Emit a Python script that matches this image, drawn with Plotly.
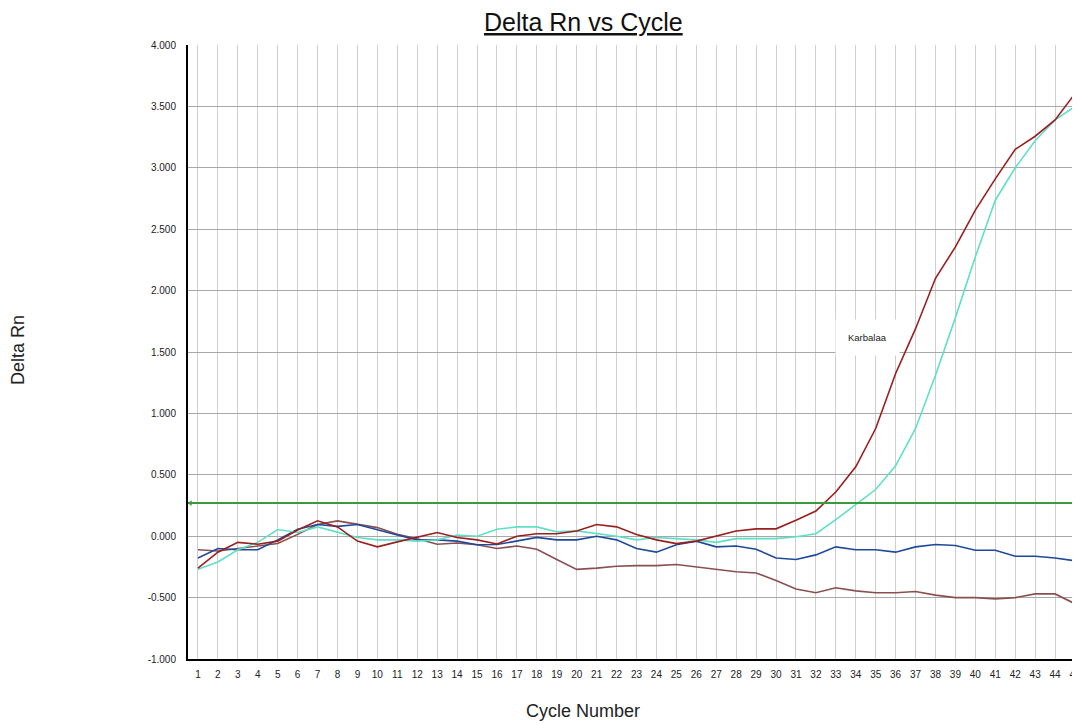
import plotly.graph_objects as go

cycles = list(range(1, 46))

red = [-0.26, -0.13, -0.05, -0.065, -0.04, 0.05, 0.125, 0.076, -0.04, -0.087,
       -0.046, -0.01, 0.03, -0.01, -0.03, -0.063, 0.0, 0.02, 0.02, 0.043,
       0.095, 0.076, 0.014, -0.03, -0.06, -0.04, 0.0, 0.043, 0.06, 0.06,
       0.13, 0.205, 0.36, 0.565, 0.877, 1.325, 1.69, 2.10, 2.356, 2.655,
       2.91, 3.15, 3.257, 3.39, 3.605]

cyan = [-0.27, -0.21, -0.11, -0.05, 0.054, 0.03, 0.076, 0.03, -0.01, -0.03,
        -0.03, -0.04, -0.03, 0.01, 0.0, 0.056, 0.076, 0.076, 0.035, 0.043,
        0.02, 0.0, -0.03, -0.01, -0.02, -0.03, -0.05, -0.02, -0.02, -0.02,
        -0.005, 0.02, 0.135, 0.26, 0.38, 0.573, 0.877, 1.31, 1.78, 2.275,
        2.736, 3.0, 3.22, 3.39, 3.50]

blue = [-0.177, -0.10, -0.11, -0.11, -0.03, 0.057, 0.095, 0.08, 0.095, 0.05,
        0.01, -0.03, -0.03, -0.04, -0.07, -0.068, -0.04, -0.01, -0.03, -0.03,
        0.0, -0.03, -0.10, -0.13, -0.07, -0.04, -0.087, -0.08, -0.106, -0.177,
        -0.19, -0.152, -0.087, -0.11, -0.11, -0.13, -0.087, -0.068, -0.076, -0.114,
        -0.114, -0.163, -0.163, -0.177, -0.20]

brown = [-0.11, -0.12, -0.10, -0.08, -0.06, 0.015, 0.095, 0.125, 0.095, 0.07,
         0.015, -0.02, -0.065, -0.055, -0.07, -0.10, -0.08, -0.106, -0.19, -0.27,
         -0.26, -0.245, -0.24, -0.24, -0.23, -0.25, -0.27, -0.29, -0.30, -0.36,
         -0.43, -0.46, -0.42, -0.445, -0.46, -0.46, -0.45, -0.48, -0.50, -0.50,
         -0.51, -0.50, -0.47, -0.47, -0.55]

threshold = 0.27

y_ticks = [-1.0, -0.5, 0.0, 0.5, 1.0, 1.5, 2.0, 2.5, 3.0, 3.5, 4.0]
y_tick_labels = ["-1.000", "-0.500", "0.000", "0.500", "1.000", "1.500",
                 "2.000", "2.500", "3.000", "3.500", "4.000"]

series = [
    ("brown", brown, "#8a5050"),
    ("blue", blue, "#1f4a9a"),
    ("cyan", cyan, "#5fe0c6"),
    ("red", red, "#9a1f1f"),
]

W, H = 1072, 716
L, R, T, B = 180, 0, 37, 65
FONT = "Arial, Liberation Sans, sans-serif"

fig = go.Figure()

fig.add_shape(type="line", xref="paper", x0=0, x1=1, yref="y",
              y0=threshold, y1=threshold, line=dict(color="#3a9a3a", width=2))

for name, vals, col in series:
    fig.add_trace(go.Scatter(x=cycles, y=vals, mode="lines", name=name,
                             line=dict(color=col, width=1.6),
                             showlegend=False))

fig.add_trace(go.Scatter(x=[0.62], y=[threshold], mode="markers",
                         marker=dict(symbol="triangle-left", size=5,
                                     color="#3a9a3a"),
                         showlegend=False, cliponaxis=False))

fig.add_annotation(x=34.6, y=1.62, xref="x", yref="y", text="Karbalaa",
                   showarrow=False, bgcolor="white", borderpad=12,
                   font=dict(family=FONT, size=9.5, color="#222222"))

pw = W - L - R
ph = H - T - B
fig.add_annotation(x=(10 - L) / pw, y=(T + ph - 342) / ph, xref="paper",
                   yref="paper", xanchor="center", yanchor="middle",
                   text="Delta Rn", textangle=-90, showarrow=False,
                   font=dict(family=FONT, size=18, color="#222222"))
fig.add_annotation(x=(575 - L) / pw, y=(T + ph - 703) / ph, xref="paper",
                   yref="paper", xanchor="center", yanchor="middle",
                   text="Cycle Number", showarrow=False,
                   font=dict(family=FONT, size=18, color="#222222"))
fig.add_annotation(x=(575 - L) / pw, y=(T + ph - 14) / ph, xref="paper",
                   yref="paper", xanchor="center", yanchor="middle",
                   text="<u>Delta Rn vs Cycle</u>", showarrow=False,
                   font=dict(family=FONT, size=25, color="#111111"))

fig.update_layout(
    width=W, height=H,
    margin=dict(l=L, r=R, t=T, b=B),
    paper_bgcolor="white", plot_bgcolor="white",
    font=dict(family=FONT, size=10, color="#222222"),
)

fig.update_xaxes(range=[0.5, 45.25], tickmode="array", tickvals=cycles,
                 ticktext=[str(c) for c in cycles], showgrid=True,
                 gridcolor="#cfcfcf", gridwidth=1, showline=True,
                 linecolor="black", linewidth=2, zeroline=False,
                 ticks="", ticklabelstandoff=5, ticklabeloverflow="allow",
                 tickfont=dict(size=10, color="#222222"))
fig.update_yaxes(range=[-1, 4], tickmode="array", tickvals=y_ticks,
                 ticktext=y_tick_labels, showgrid=True, gridcolor="#a8a8a8",
                 gridwidth=1, showline=True, linecolor="black", linewidth=2,
                 zeroline=False, ticks="", ticklabelstandoff=8,
                 tickfont=dict(size=10, color="#222222"))

fig.write_html("out.html")
